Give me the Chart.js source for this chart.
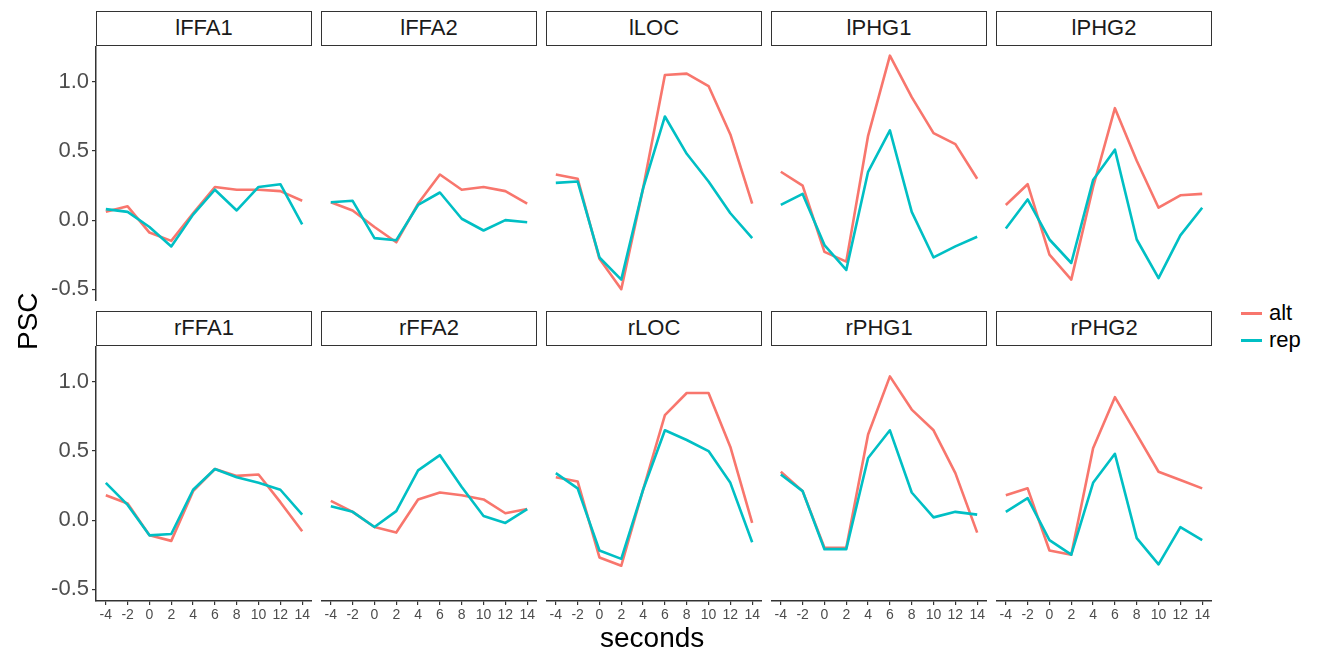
<!DOCTYPE html>
<html>
<head>
<meta charset="utf-8">
<script src="https://cdn.jsdelivr.net/npm/chart.js@4/dist/chart.umd.min.js"></script>
<style>
  body { margin: 0; background: #fff; font-family: "Liberation Sans", Arial, sans-serif; }
  #wrap { position: relative; width: 1323px; height: 656px; overflow: hidden; background: #fff; }
  #wrap canvas { position: absolute; }
  .strip { position: absolute; box-sizing: border-box; border: 1.5px solid #333; background: #fff;
           color: #1a1a1a; font-size: 22px; text-align: center; line-height: 32px; }
  .title { position: absolute; color: #000; font-size: 28px; }
  .key { position: absolute; font-size: 22px; color: #000; line-height: 22px; }
  .key span { position: absolute; left: 0; top: 10px; width: 21px; height: 3px; }
  .key b { position: absolute; left: 28px; top: 0; font-weight: normal; }
</style>
</head>
<body>
<div id="wrap"></div>
<script>
// time after onset (s)
var seconds = [-4, -2, 0, 2, 4, 6, 8, 10, 12, 14];
var yTicks = [-0.5, 0, 0.5, 1.0];

// facet order, row by row
var regions = ['lFFA1', 'lFFA2', 'lLOC', 'lPHG1', 'lPHG2',
               'rFFA1', 'rFFA2', 'rLOC', 'rPHG1', 'rPHG2'];

// PSC for the 'alt' condition, one array per region
var altPSC = [
  [0.06, 0.10, -0.09, -0.15, 0.05, 0.24, 0.22, 0.22, 0.21, 0.14],   // lFFA1
  [0.13, 0.07, -0.05, -0.16, 0.12, 0.33, 0.22, 0.24, 0.21, 0.12],   // lFFA2
  [0.33, 0.30, -0.28, -0.50, 0.23, 1.05, 1.06, 0.97, 0.62, 0.12],   // lLOC
  [0.35, 0.25, -0.23, -0.30, 0.61, 1.19, 0.89, 0.63, 0.55, 0.30],   // lPHG1
  [0.11, 0.26, -0.25, -0.43, 0.24, 0.81, 0.43, 0.09, 0.18, 0.19],   // lPHG2
  [0.18, 0.12, -0.11, -0.15, 0.21, 0.37, 0.32, 0.33, 0.13, -0.08],  // rFFA1
  [0.14, 0.06, -0.05, -0.09, 0.15, 0.20, 0.18, 0.15, 0.05, 0.08],   // rFFA2
  [0.31, 0.28, -0.27, -0.33, 0.22, 0.76, 0.92, 0.92, 0.53, -0.02],  // rLOC
  [0.35, 0.21, -0.20, -0.20, 0.62, 1.04, 0.80, 0.65, 0.34, -0.09],  // rPHG1
  [0.18, 0.23, -0.22, -0.25, 0.52, 0.89, 0.62, 0.35, 0.29, 0.23]    // rPHG2
];

// PSC for the 'rep' condition
var repPSC = [
  [0.08, 0.06, -0.05, -0.19, 0.04, 0.22, 0.07, 0.24, 0.26, -0.03],  // lFFA1
  [0.13, 0.14, -0.13, -0.145, 0.11, 0.20, 0.01, -0.075, 0.0, -0.015], // lFFA2
  [0.27, 0.28, -0.27, -0.43, 0.23, 0.75, 0.48, 0.28, 0.05, -0.13],  // lLOC
  [0.11, 0.19, -0.18, -0.36, 0.35, 0.65, 0.06, -0.27, -0.19, -0.12], // lPHG1
  [-0.06, 0.15, -0.14, -0.31, 0.29, 0.51, -0.14, -0.42, -0.11, 0.09], // lPHG2
  [0.27, 0.11, -0.11, -0.10, 0.22, 0.37, 0.31, 0.27, 0.22, 0.04],   // rFFA1
  [0.10, 0.06, -0.05, 0.065, 0.36, 0.47, 0.24, 0.03, -0.02, 0.08],  // rFFA2
  [0.34, 0.23, -0.22, -0.28, 0.22, 0.65, 0.58, 0.50, 0.27, -0.16],  // rLOC
  [0.33, 0.21, -0.21, -0.21, 0.45, 0.65, 0.20, 0.02, 0.06, 0.04],   // rPHG1
  [0.06, 0.16, -0.145, -0.25, 0.27, 0.48, -0.13, -0.32, -0.05, -0.145] // rPHG2
];

var conditions = ['alt', 'rep'];
var condColors = ['#F8766D', '#00BFC4'];

// panel geometry (px)
var panelLeft = [96, 321, 546, 771, 996];
var panelW = 216;
var rowTop = [46, 346];
var panelH = 255;
var stripH = 35;
var yAxisW = 56;   // room for the tick labels of the first column
var xAxisH = 28;   // room for the x tick labels of the bottom row

var wrap = document.getElementById('wrap');

function toPoints(vals) {
  var pts = [];
  for (var i = 0; i < seconds.length; i++) {
    pts.push({x: seconds[i], y: vals[i]});
  }
  return pts;
}

function noPadding(scale) {
  scale.paddingTop = 0;
  scale.paddingBottom = 0;
  scale.paddingLeft = 0;
  scale.paddingRight = 0;
}

function makePanel(k) {
  var row = Math.floor(k / 5);
  var col = k % 5;
  var showY = col == 0;
  var showX = row == 1;

  // strip label above the panel
  var strip = document.createElement('div');
  strip.className = 'strip';
  strip.style.left = panelLeft[col] + 'px';
  strip.style.top = (rowTop[row] - stripH - 0.5) + 'px';
  strip.style.width = panelW + 'px';
  strip.style.height = stripH + 'px';
  strip.textContent = regions[k];
  wrap.appendChild(strip);

  var left = panelLeft[col] - (showY ? yAxisW : 0);
  var w = panelW + (showY ? yAxisW : 0);
  var h = panelH + (showX ? xAxisH : 0);

  var cv = document.createElement('canvas');
  cv.width = w;
  cv.height = h;
  cv.style.left = left + 'px';
  cv.style.top = rowTop[row] + 'px';
  cv.style.width = w + 'px';
  cv.style.height = h + 'px';
  wrap.appendChild(cv);

  var datasets = [];
  var series = [altPSC[k], repPSC[k]];
  for (var s = 0; s < conditions.length; s++) {
    datasets.push({
      label: conditions[s],
      data: toPoints(series[s]),
      borderColor: condColors[s],
      borderWidth: 2.6,
      borderJoinStyle: 'round',
      pointRadius: 0,
      tension: 0,
      order: s == 0 ? 1 : 0  // rep drawn on top of alt
    });
  }

  new Chart(cv.getContext('2d'), {
    type: 'line',
    data: {datasets: datasets},
    options: {
      responsive: false,
      animation: false,
      layout: {padding: 0},
      plugins: {legend: {display: false}, tooltip: {enabled: false}},
      scales: {
        x: {
          type: 'linear',
          min: -4.9,
          max: 14.9,
          display: showX,
          grid: {drawOnChartArea: false, drawTicks: true, tickLength: 4, color: '#333', lineWidth: 1.2},
          border: {display: true, color: '#333', width: 1.5},
          ticks: {
            autoSkip: false,
            maxRotation: 0,
            padding: 2,
            color: '#4D4D4D',
            font: {family: 'Liberation Sans', size: 14}
          },
          afterBuildTicks: function(scale) {
            scale.ticks = seconds.map(function(v) { return {value: v}; });
          },
          afterFit: function(scale) {
            scale.height = showX ? xAxisH : 0;
            noPadding(scale);
          }
        },
        y: {
          type: 'linear',
          min: -0.585,
          max: 1.26,
          display: showY,
          grid: {drawOnChartArea: false, drawTicks: true, tickLength: 4, color: '#333', lineWidth: 1.2},
          border: {display: true, color: '#333', width: 1.5},
          ticks: {
            padding: 3,
            color: '#4D4D4D',
            font: {family: 'Liberation Sans', size: 22},
            callback: function(v) { return Number(v).toFixed(1); }
          },
          afterBuildTicks: function(scale) {
            scale.ticks = yTicks.map(function(v) { return {value: v}; });
          },
          afterFit: function(scale) {
            scale.width = showY ? yAxisW : 0;
            noPadding(scale);
          }
        }
      }
    }
  });
}

for (var k = 0; k < regions.length; k++) {
  makePanel(k);
}

// axis titles
var xt = document.createElement('div');
xt.className = 'title';
xt.textContent = 'seconds';
xt.style.left = '600px';
xt.style.top = '622px';
wrap.appendChild(xt);

var yt = document.createElement('div');
yt.className = 'title';
yt.textContent = 'PSC';
yt.style.left = '4px';
yt.style.top = '310px';
yt.style.transform = 'rotate(-90deg)';
yt.style.transformOrigin = '24px 16px';
wrap.appendChild(yt);

// legend
for (var j = 0; j < conditions.length; j++) {
  var key = document.createElement('div');
  key.className = 'key';
  key.style.left = '1241px';
  key.style.top = (302 + j * 27) + 'px';
  key.innerHTML = '<span style="background:' + condColors[j] + '"></span><b>' + conditions[j] + '</b>';
  wrap.appendChild(key);
}
</script>
</body>
</html>
